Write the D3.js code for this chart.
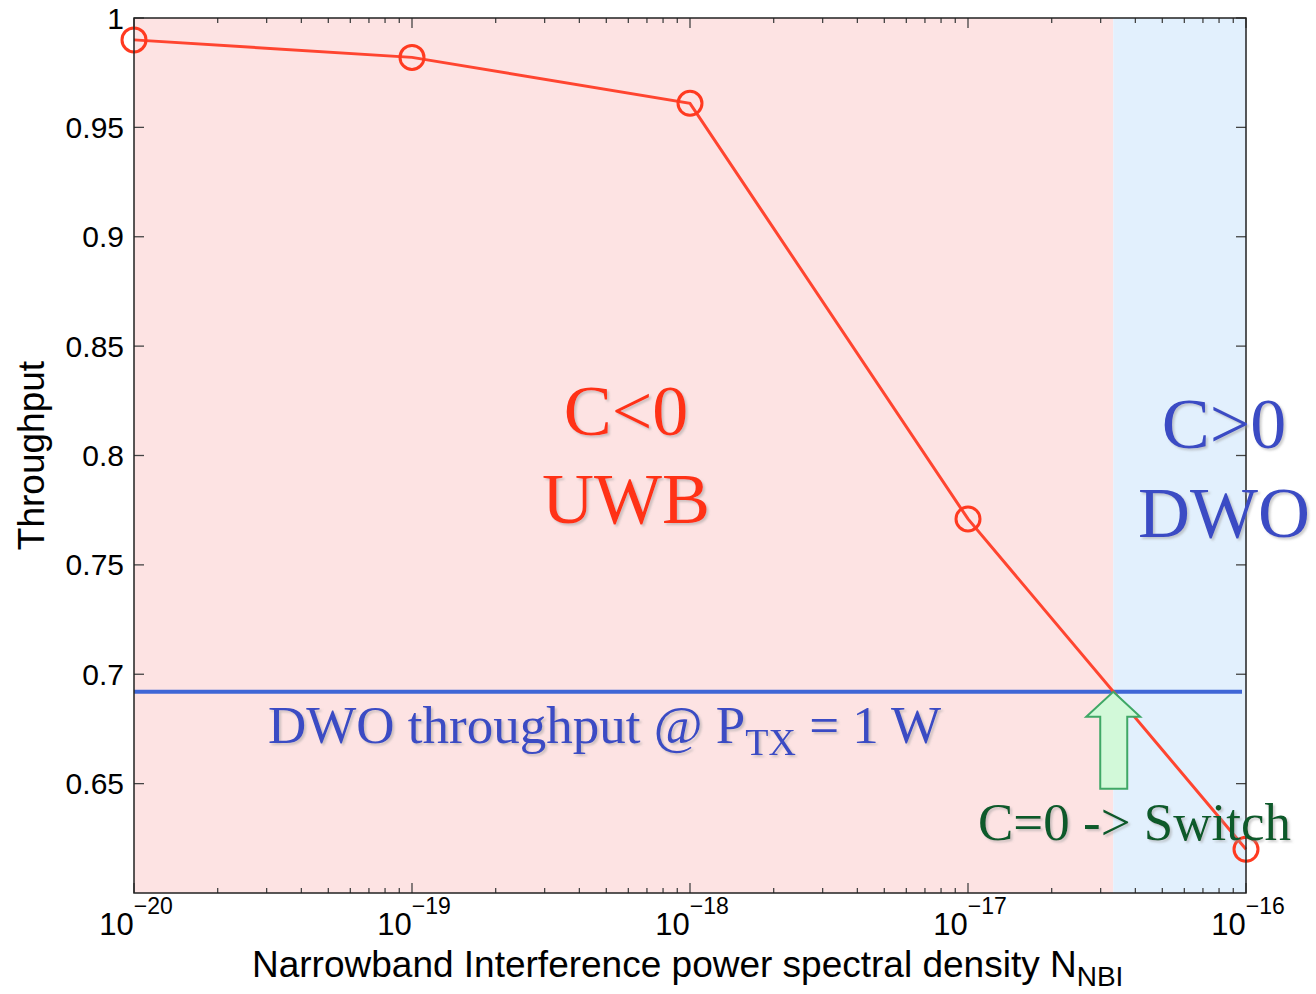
<!DOCTYPE html>
<html>
<head>
<meta charset="utf-8">
<script src="https://cdn.jsdelivr.net/npm/d3@7"></script>
<style>
  body { margin: 0; background: #fff; }
  svg { display: block; }
  .tick-label { font-family: "Liberation Sans", Arial, sans-serif; font-size: 30px; fill: #000; }
  .title { font-family: "Liberation Sans", Arial, sans-serif; font-size: 37px; fill: #000; }
  .serif { font-family: "Liberation Serif", "Times New Roman", serif; }
</style>
</head>
<body>
<div id="chart"></div>
<script>
// data
const nbiPsd = [1e-20, 1e-19, 1e-18, 1e-17, 1e-16];
const throughput = [0.990, 0.982, 0.961, 0.771, 0.620];
const dwoThroughput = 0.692;
const switchPsd = 3.33e-17;
const yTicks = [0.65, 0.7, 0.75, 0.8, 0.85, 0.9, 0.95, 1];
const xExponents = [-20, -19, -18, -17, -16];

const W = 1316, H = 994;
const margin = { top: 18, right: 70, bottom: 101, left: 134 };

const svg = d3.select('#chart')
  .append('svg')
    .attr('width', W)
    .attr('height', H);

const defs = svg.append('defs');
const shadow = defs.append('filter').attr('id', 'shadow')
  .attr('x', '-10%').attr('y', '-10%').attr('width', '120%').attr('height', '130%');
shadow.append('feDropShadow')
  .attr('dx', 2).attr('dy', 2).attr('stdDeviation', 1)
  .attr('flood-color', '#999').attr('flood-opacity', 0.5);

const x = d3.scaleLog()
  .domain([1e-20, 1e-16])
  .range([margin.left, W - margin.right]);

const y = d3.scaleLinear()
  .domain([0.6, 1])
  .range([H - margin.bottom, margin.top]);

const [x0, x1] = x.range();
const [yb, yt] = y.range();

// shaded regions
svg.append('rect')
  .attr('x', x0).attr('y', yt)
  .attr('width', x(switchPsd) - x0).attr('height', yb - yt)
  .attr('fill', '#fde3e3');
svg.append('rect')
  .attr('x', x(switchPsd)).attr('y', yt)
  .attr('width', x1 - x(switchPsd)).attr('height', yb - yt)
  .attr('fill', '#e2f0fd');

// ticks, matlab style: inward on all four sides
const minor = [];
for (let e = -20; e < -16; e++) {
  for (let k = 2; k <= 9; k++) minor.push(k * Math.pow(10, e));
}
const tickColor = '#444';
const axisG = svg.append('g').attr('stroke', tickColor).attr('stroke-width', 1.3);

xExponents.forEach(e => {
  const px = x(Math.pow(10, e));
  axisG.append('line').attr('x1', px).attr('x2', px).attr('y1', yb).attr('y2', yb - 10);
  axisG.append('line').attr('x1', px).attr('x2', px).attr('y1', yt).attr('y2', yt + 10);
});
minor.forEach(v => {
  const px = x(v);
  axisG.append('line').attr('x1', px).attr('x2', px).attr('y1', yb).attr('y2', yb - 5);
  axisG.append('line').attr('x1', px).attr('x2', px).attr('y1', yt).attr('y2', yt + 5);
});
yTicks.forEach(v => {
  const py = y(v);
  axisG.append('line').attr('x1', x0).attr('x2', x0 + 10).attr('y1', py).attr('y2', py);
  axisG.append('line').attr('x1', x1).attr('x2', x1 - 10).attr('y1', py).attr('y2', py);
});

// DWO throughput line
svg.append('line')
  .attr('x1', x0).attr('x2', x1 - 4)
  .attr('y1', y(dwoThroughput)).attr('y2', y(dwoThroughput))
  .attr('stroke', '#3f66d6')
  .attr('stroke-width', 4);

// throughput curve
const pts = nbiPsd.map((d, i) => ({ x: d, y: throughput[i] }));
svg.append('path')
  .datum(pts)
  .attr('fill', 'none')
  .attr('stroke', '#ff4530')
  .attr('stroke-width', 3)
  .attr('d', d3.line().x(d => x(d.x)).y(d => y(d.y)));

svg.selectAll('circle.marker')
  .data(pts)
  .enter().append('circle')
    .attr('class', 'marker')
    .attr('cx', d => x(d.x))
    .attr('cy', d => y(d.y))
    .attr('r', 12)
    .attr('fill', 'none')
    .attr('stroke', '#ff3a20')
    .attr('stroke-width', 3);

// switch arrow
const ax = x(switchPsd), ay = y(dwoThroughput);
const arrow = [
  [ax, ay], [ax + 27, ay + 25], [ax + 14, ay + 25], [ax + 14, ay + 97],
  [ax - 13, ay + 97], [ax - 13, ay + 25], [ax - 27, ay + 25]
];
svg.append('path')
  .attr('d', d3.line()(arrow) + 'Z')
  .attr('fill', '#d2f9d9')
  .attr('stroke', '#3fa866')
  .attr('stroke-width', 2);

// box
svg.append('rect')
  .attr('x', x0).attr('y', yt)
  .attr('width', x1 - x0).attr('height', yb - yt)
  .attr('fill', 'none')
  .attr('stroke', '#222')
  .attr('stroke-width', 1.5);

// tick labels
svg.selectAll('text.ylab')
  .data(yTicks)
  .enter().append('text')
    .attr('class', 'tick-label ylab')
    .attr('x', x0 - 10)
    .attr('y', d => y(d))
    .attr('dy', '0.35em')
    .attr('text-anchor', 'end')
    .text(d => d3.format('')(d));

xExponents.forEach(e => {
  const t = svg.append('text')
    .attr('class', 'tick-label')
    .attr('x', x(Math.pow(10, e)) + 2)
    .attr('y', yb + 42)
    .attr('text-anchor', 'middle');
  t.append('tspan').attr('font-size', 31).text('10');
  t.append('tspan').attr('dy', -21).attr('font-size', 23).text('\u2212' + Math.abs(e));
});

// axis titles
svg.append('text')
  .attr('class', 'title')
  .attr('transform', `translate(44, ${(yt + yb) / 2}) rotate(-90)`)
  .attr('text-anchor', 'middle')
  .text('Throughput');

const xt = svg.append('text')
  .attr('class', 'title')
  .attr('x', 252)
  .attr('y', 977)
  .attr('font-size', 36);
xt.append('tspan').text('Narrowband Interference power spectral density N');
xt.append('tspan').attr('dy', 9).attr('font-size', 28).text('NBI');

// annotations
const red = '#ff3319', blue = '#3a4cc4', green = '#0b5a2c';

function bigLabel(lines, cx, baselines, color, size) {
  lines.forEach((s, i) => {
    svg.append('text')
      .attr('class', 'serif')
      .attr('x', cx).attr('y', baselines[i])
      .attr('text-anchor', 'middle')
      .attr('font-size', size)
      .attr('fill', color)
      .attr('filter', 'url(#shadow)')
      .text(s);
  });
}
bigLabel(['C<0', 'UWB'], 626, [435, 523], red, 72);
bigLabel(['C>0', 'DWO'], 1224, [448, 537], blue, 72);

const dwoText = svg.append('text')
  .attr('class', 'serif')
  .attr('x', 268).attr('y', 743)
  .attr('font-size', 53)
  .attr('fill', blue)
  .attr('filter', 'url(#shadow)');
dwoText.append('tspan').text('DWO throughput @ P');
dwoText.append('tspan').attr('dy', 12).attr('font-size', 38).text('TX');
dwoText.append('tspan').attr('dy', -12).text(' = 1 W');

svg.append('text')
  .attr('class', 'serif')
  .attr('x', 978).attr('y', 840)
  .attr('font-size', 53)
  .attr('fill', green)
  .attr('filter', 'url(#shadow)')
  .text('C=0 -> Switch');
</script>
</body>
</html>
